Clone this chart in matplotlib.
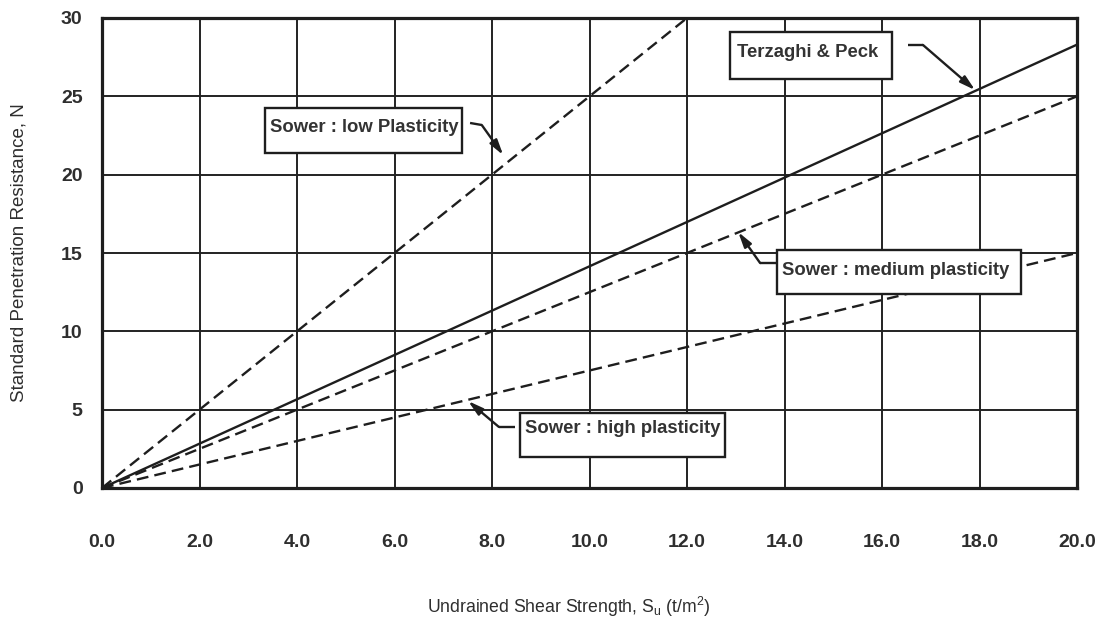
import matplotlib
matplotlib.use("Agg")
import matplotlib.pyplot as plt
import matplotlib.patches as patches

plt.rcParams['font.family'] = ['Liberation Sans', 'DejaVu Sans']
plt.rcParams['mathtext.fontset'] = 'custom'
plt.rcParams['mathtext.rm'] = 'Liberation Sans'

# curves: straight lines through the origin, end points
low_x = [0, 12]
low_n = [0, 30]
tp_x = [0, 20]
tp_n = [0, 28.3]
med_x = [0, 20]
med_n = [0, 25]
high_x = [0, 20]
high_n = [0, 15]

x_ticks = [0, 2, 4, 6, 8, 10, 12, 14, 16, 18, 20]
x_labels = ["%.1f" % v for v in x_ticks]
y_ticks = [0, 5, 10, 15, 20, 25, 30]

# label boxes: text, box (left, right, bottom, top), arrow (start, kink, tip)
labels = ["Sower : low Plasticity", "Terzaghi & Peck",
          "Sower : medium plasticity", "Sower : high plasticity"]
boxes = [(3.34, 7.38, 21.38, 24.25), (12.88, 16.2, 26.1, 29.1),
         (13.85, 18.85, 12.38, 15.19), (8.57, 12.78, 1.98, 4.79)]
text_pos = [(3.45, 23.0), (13.03, 27.77), (13.95, 13.9), (8.68, 3.8)]
arrows = [((7.55, 23.3), (7.79, 23.17), (8.23, 21.25)),
          ((16.53, 28.28), (16.84, 28.28), (17.91, 25.4)),
          ((13.85, 14.36), (13.5, 14.36), (13.05, 16.34)),
          ((8.47, 3.9), (8.14, 3.9), (7.51, 5.55))]

ink = "#1e1e1e"
txt = "#2e2e2e"

fig = plt.figure(figsize=(11.04, 6.24), dpi=100)
ax = fig.add_axes([102 / 1104, 1 - 488 / 624, 975 / 1104, 470 / 624])

ax.plot(tp_x, tp_n, color=ink, lw=1.7, zorder=3)
for xs, ns in [(low_x, low_n), (med_x, med_n), (high_x, high_n)]:
    ax.plot(xs, ns, color=ink, lw=1.7, dashes=(5, 2.6), zorder=3)

ax.set_xlim(0, 20)
ax.set_ylim(0, 30)
ax.set_xticks(x_ticks)
ax.set_xticklabels(x_labels)
ax.set_yticks(y_ticks)
ax.grid(True, color="#222222", lw=1.4)
ax.set_axisbelow(True)
ax.tick_params(axis='x', length=0, pad=33, labelsize=14, labelcolor=txt)
ax.tick_params(axis='y', length=0, pad=14, labelsize=14, labelcolor=txt)
for lab in ax.get_xticklabels() + ax.get_yticklabels():
    lab.set_fontweight('bold')
for s in ax.spines.values():
    s.set_linewidth(2.3)
    s.set_color(ink)

ax.set_xlabel(r"Undrained Shear Strength, $\mathregular{S_u}$ (t/m$\mathregular{^2}$)",
              fontsize=12.7, color=txt, labelpad=32)
ax.xaxis.label.set_x(0.479)
ax.set_ylabel("Standard Penetration Resistance, N", fontsize=13.5, color=txt,
              labelpad=24)

for text, (l, r, b, t), (tx, ty), (p0, p1, tip) in zip(labels, boxes, text_pos, arrows):
    rect = patches.Rectangle((l, b), r - l, t - b, facecolor="white",
                             edgecolor=ink, lw=1.7, zorder=4)
    ax.add_patch(rect)
    ax.text(tx, ty, text, fontsize=13.3, fontweight='bold', color="#333333",
            va='center', ha='left', zorder=5)
    ax.plot([p0[0], p1[0]], [p0[1], p1[1]], color=ink, lw=1.7, zorder=4,
            solid_capstyle='butt')
    ax.annotate("", xy=tip, xytext=p1,
                arrowprops=dict(arrowstyle="-|>,head_length=0.9,head_width=0.25",
                                color=ink, lw=1.7, shrinkA=0, shrinkB=0),
                zorder=4)

plt.savefig("out.png", dpi=100)
plt.close()
